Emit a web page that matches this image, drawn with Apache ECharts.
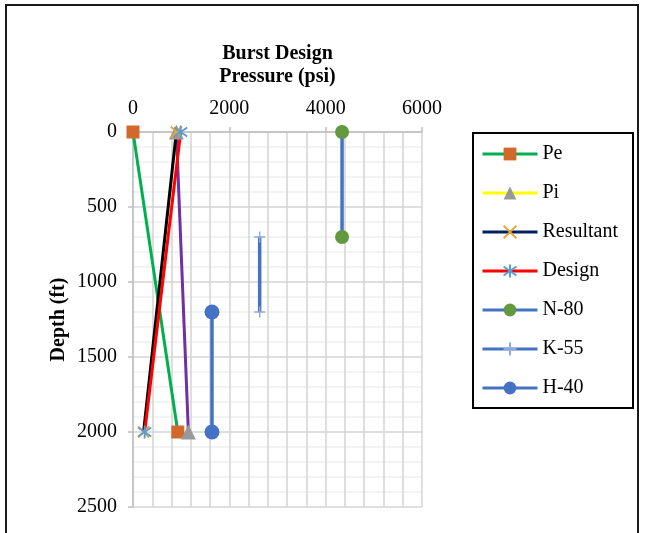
<!DOCTYPE html>
<html>
<head>
<meta charset="utf-8">
<script src="https://cdn.jsdelivr.net/npm/echarts@6/dist/echarts.min.js"></script>
<style>
  html, body { margin: 0; padding: 0; background: #fff; }
  #chart { width: 645px; height: 533px; }
</style>
</head>
<body>
<div id="chart"></div>
<script>
// depth of each string end (ft) and pressures (psi)
const depthEnds = [0, 2000];
const pePsi = [0, 930];
const piPsi = [900, 1150];
const resultantPsi = [900, 220];
const designPsi = [990, 242];

const n80Depth = [0, 700];
const n80Psi = [4340, 4340];
const k55Depth = [700, 1200];
const k55Psi = [2630, 2630];
const h40Depth = [1200, 2000];
const h40Psi = [1640, 1640];

const xTicks = [0, 2000, 4000, 6000];
const yTicks = [0, 500, 1000, 1500, 2000, 2500];

function pairs(xs, ys) {
  return xs.map((x, i) => [x, ys[i]]);
}

const FONT = '"Liberation Serif", "Times New Roman", serif';
const xMark = 'path://M0 0L10 10M10 0L0 10';
const starMark = 'path://M5 0L5 10M0 1.5L10 8.5M10 1.5L0 8.5';
const plusMark = 'path://M5 0L5 10M0 5L10 5';

const chart = echarts.init(document.getElementById('chart'));

const option = {
  animation: false,
  backgroundColor: '#fff',
  textStyle: { fontFamily: FONT },
  grid: { left: 133, top: 132, width: 289, height: 375 },
  xAxis: {
    type: 'value',
    position: 'top',
    min: xTicks[0],
    max: xTicks[xTicks.length - 1],
    interval: 2000,
    name: 'Burst Design\nPressure (psi)',
    nameLocation: 'middle',
    nameGap: 44,
    nameTextStyle: { fontFamily: FONT, fontWeight: 'bold', fontSize: 20, color: '#000', lineHeight: 23 },
    axisLine: { lineStyle: { color: '#bfbfbf', width: 1.5 } },
    axisTick: { show: true, length: 5, lineStyle: { color: '#bfbfbf', width: 1.5 } },
    axisLabel: { fontFamily: FONT, fontSize: 20, color: '#000', margin: 13, formatter: v => String(v) },
    splitLine: { show: true, lineStyle: { color: '#d4d4d4', width: 1.5 } },
    minorTick: { show: false, splitNumber: 5 },
    minorSplitLine: { show: true, lineStyle: { color: '#d4d4d4', width: 1.5 } }
  },
  yAxis: {
    type: 'value',
    inverse: true,
    min: yTicks[0],
    max: yTicks[yTicks.length - 1],
    interval: 500,
    name: 'Depth (ft)',
    nameLocation: 'middle',
    nameGap: 64,
    nameTextStyle: { fontFamily: FONT, fontWeight: 'bold', fontSize: 20, color: '#000' },
    axisLine: { show: true, lineStyle: { color: '#bfbfbf', width: 1.5 } },
    axisTick: { show: true, length: 5, lineStyle: { color: '#bfbfbf', width: 1.5 } },
    axisLabel: { fontFamily: FONT, fontSize: 20, color: '#000', margin: 16, formatter: v => String(v) },
    splitLine: { show: true, lineStyle: { color: '#d4d4d4', width: 1.5 } },
    minorTick: { show: false, splitNumber: 5 },
    minorSplitLine: { show: true, lineStyle: { color: '#efefef', width: 1.5 } }
  },
  legend: {
    orient: 'vertical',
    left: 481,
    top: 144,
    padding: 0,
    itemWidth: 55,
    itemHeight: 16,
    itemGap: 19,
    textStyle: { fontFamily: FONT, fontSize: 20, color: '#000' },
    lineStyle: { width: 3 },
    data: [
      { name: 'Pe' },
      { name: 'Pi', lineStyle: { color: '#ffff00', width: 3 } },
      { name: 'Resultant', lineStyle: { color: '#002060', width: 3 } },
      { name: 'Design' },
      { name: 'N-80' },
      { name: 'K-55' },
      { name: 'H-40' }
    ]
  },
  graphic: [
    { type: 'rect', shape: { x: 6, y: 5, width: 632, height: 540 }, style: { fill: 'none', stroke: '#1a1a1a', lineWidth: 2 }, silent: true },
    { type: 'rect', shape: { x: 473, y: 133, width: 160, height: 275 }, style: { fill: 'none', stroke: '#000', lineWidth: 2 }, silent: true }
  ],
  series: [
    {
      name: 'Pe', type: 'line',
      data: pairs(pePsi, depthEnds),
      symbol: 'rect', symbolSize: 13,
      lineStyle: { color: '#00b050', width: 3 },
      itemStyle: { color: '#d2692a' }
    },
    {
      name: 'Pi', type: 'line',
      data: pairs(piPsi, depthEnds),
      symbol: 'triangle', symbolSize: 15,
      lineStyle: { color: '#7030a0', width: 3 },
      itemStyle: { color: '#999999' }
    },
    {
      name: 'Resultant', type: 'line',
      data: pairs(resultantPsi, depthEnds),
      symbol: xMark, symbolSize: 11,
      lineStyle: { color: '#000000', width: 3 },
      itemStyle: { color: 'transparent', borderColor: '#e8a530', borderWidth: 1.8 }
    },
    {
      name: 'Design', type: 'line',
      data: pairs(designPsi, depthEnds),
      symbol: starMark, symbolSize: 13,
      lineStyle: { color: '#ff0000', width: 3 },
      itemStyle: { color: 'transparent', borderColor: '#5b9bd5', borderWidth: 1.8 }
    },
    {
      name: 'N-80', type: 'line',
      data: pairs(n80Psi, n80Depth),
      symbol: 'circle', symbolSize: 14,
      lineStyle: { color: '#4472c4', width: 3.5 },
      itemStyle: { color: '#62993e' }
    },
    {
      name: 'K-55', type: 'line',
      data: pairs(k55Psi, k55Depth),
      symbol: plusMark, symbolSize: 11,
      lineStyle: { color: '#4472c4', width: 3.5 },
      itemStyle: { color: 'transparent', borderColor: '#8faadc', borderWidth: 1.5 }
    },
    {
      name: 'H-40', type: 'line',
      data: pairs(h40Psi, h40Depth),
      symbol: 'circle', symbolSize: 15,
      lineStyle: { color: '#4472c4', width: 3.5 },
      itemStyle: { color: '#4472c4' }
    }
  ]
};

chart.setOption(option);
</script>
</body>
</html>
